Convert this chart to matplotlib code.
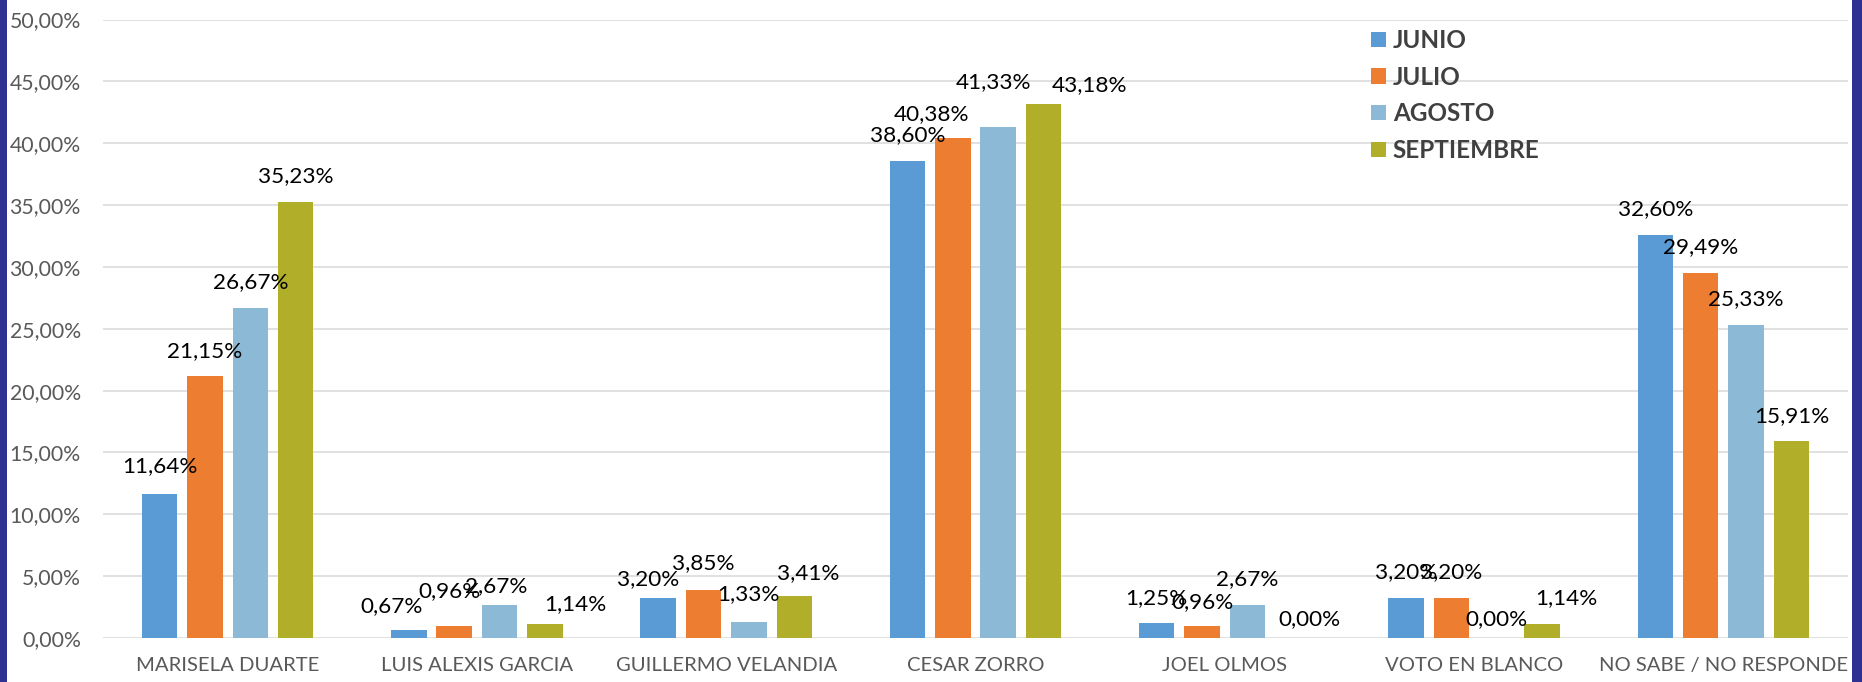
import matplotlib
matplotlib.use("Agg")
import matplotlib.pyplot as plt
from matplotlib.patches import Rectangle, Patch
import numpy as np

plt.rcParams.update({
    'font.family': ['Lato', 'DejaVu Sans'],
})

# Data
categories = ["MARISELA DUARTE", "LUIS ALEXIS GARCIA", "GUILLERMO VELANDIA",
              "CESAR ZORRO", "JOEL OLMOS", "VOTO EN BLANCO", "NO SABE / NO RESPONDE"]
months = ["JUNIO", "JULIO", "AGOSTO", "SEPTIEMBRE"]
junio = [11.64, 0.67, 3.20, 38.60, 1.25, 3.20, 32.60]
julio = [21.15, 0.96, 3.85, 40.38, 0.96, 3.20, 29.49]
agosto = [26.67, 2.67, 1.33, 41.33, 2.67, 0.00, 25.33]
septiembre = [35.23, 1.14, 3.41, 43.18, 0.00, 1.14, 15.91]
yticks = [0, 5, 10, 15, 20, 25, 30, 35, 40, 45, 50]

COLORS = ["#5B9BD5", "#ED7D31", "#8CBAD6", "#B1AE29"]
BORDER = "#2E3092"

# label nudges in pixels (dx, dy above bar top), per category x month
LABEL_DX = [[0, 0, 0, 0],
            [-17, -5, -3, 30],
            [-10, 0, 0, 14],
            [0, -21, -5, 46],
            [0, 0, 0, 17],
            [0, 0, 0, 24],
            [0, 0, 0, 0]]
LABEL_DY = [[28, 25, 26, 26],
            [24, 35, 19, 20],
            [19, 27, 27, 23],
            [25, 24, 45, 19],
            [24, 24, 26, 19],
            [26, 26, 19, 26],
            [26, 26, 26, 25]]

W, H = 1862, 682
fig = plt.figure(figsize=(W / 100, H / 100), dpi=100)
ax = fig.add_axes([103 / W, 44 / H, 1745 / W, 618.5 / H])

series = [junio, julio, agosto, septiembre]
x = np.arange(len(categories))
pitch, bw = 0.182, 0.1425
for j, (name, vals) in enumerate(zip(months, series)):
    xs = x + (j - 1.5) * pitch
    ax.bar(xs, vals, width=bw, color=COLORS[j], label=name, zorder=2)
    for i, v in enumerate(vals):
        txt = f"{v:.2f}%".replace('.', ',')
        ax.annotate(txt, (xs[i], v),
                    xytext=(LABEL_DX[i][j] * 0.72, LABEL_DY[i][j] * 0.72),
                    textcoords='offset points', ha='center', va='center',
                    fontsize=16.2, color='black', zorder=4)

ax.set_xlim(-0.5, len(categories) - 0.5)
ax.set_ylim(0, 50)
ax.set_yticks(yticks)
ax.set_yticklabels([f"{t:.2f}%".replace('.', ',') for t in yticks])
ax.set_xticks(x)
ax.set_xticklabels(categories)
ax.tick_params(axis='y', length=0, pad=16, labelsize=15.3, labelcolor='#595959')
ax.tick_params(axis='x', length=0, pad=14, labelsize=14.6, labelcolor='#595959')
ax.grid(axis='y', color='#D9D9D9', linewidth=1.1, zorder=0)
ax.set_axisbelow(True)
for s in ax.spines.values():
    s.set_visible(False)

handles = [Patch(facecolor=c, edgecolor='none') for c in COLORS]
leg = fig.legend(handles, months, loc='upper left',
                 bbox_to_anchor=(1371 / W, 1 - 29 / H),
                 bbox_transform=fig.transFigure, frameon=False,
                 prop={'size': 17.5, 'weight': 'bold'},
                 handlelength=0.6, handleheight=0.6, handletextpad=0.3,
                 labelspacing=0.56, borderpad=0, borderaxespad=0)
for t in leg.get_texts():
    t.set_color('#404040')

# purple side borders
fig.patches.append(Rectangle((0, 0), 7 / W, 1, transform=fig.transFigure,
                             facecolor=BORDER, edgecolor='none'))
fig.patches.append(Rectangle((1852 / W, 0), 10 / W, 1, transform=fig.transFigure,
                             facecolor=BORDER, edgecolor='none'))

fig.savefig("out.png", dpi=100)
